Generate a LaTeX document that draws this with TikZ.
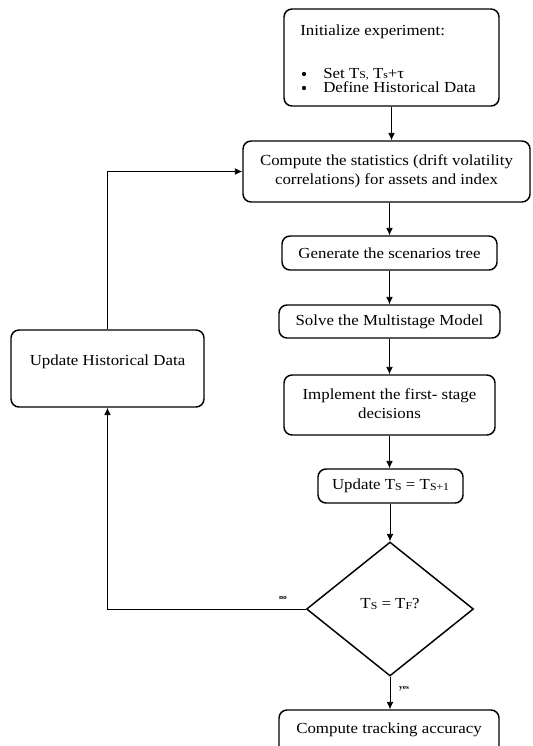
\documentclass[tikz,border=0pt]{standalone}
\usepackage{fontspec}
\setmainfont{Liberation Serif}[FakeStretch=1.1]
\usetikzlibrary{arrows.meta,shapes.geometric}
\newdimen\px \px=0.75pt
\tikzset{
  box/.style={draw, line width=1.1pt, rounded corners=6pt, inner sep=0pt},
  arr/.style={line width=0.6pt, -{Latex[length=5.5pt,width=5pt]}},
  txt/.style={font=\fontsize{11.5}{14.5}\selectfont, inner sep=0pt, align=center},
  tiny/.style={font=\fontsize{5}{6}\selectfont\bfseries, inner sep=0pt}
}
\newcommand{\subS}[1]{{\fontsize{8}{9}\selectfont\raisebox{-0.6pt}{#1}}}
\begin{document}
\begin{tikzpicture}[x=0.75pt,y=-0.75pt]
\useasboundingbox (0,0) rectangle (532,746);
\clip (0,0) rectangle (532,746);
% boxes
\node[box, minimum width=215\px, minimum height=97\px] (init) at (391.5,57.5) {};
\node[txt, anchor=base west] (t1) at (300,36) {Initialize experiment:};
\node[fill, circle, inner sep=0pt, minimum size=3.2pt] (b1) at (304,74) {};
\node[txt, anchor=base west] (t2) at (323,78) {Set T\subS{S,} T\subS{s}+τ};
\node[fill, circle, inner sep=0pt, minimum size=3.2pt] (b2) at (304,88) {};
\node[txt, anchor=base west] (t3) at (323,92) {Define Historical Data};

\node[box, minimum width=287\px, minimum height=61\px] (comp) at (386.5,171.5) {};
\node[txt] (ct) at (386.5,171.5) {Compute the statistics (drift volatility\\correlations) for assets and index};

\node[box, minimum width=215\px, minimum height=34\px, txt] (gen) at (389.5,253) {Generate the scenarios tree};
\node[box, minimum width=221\px, minimum height=33\px, txt] (solve) at (389.5,321.5) {Solve the Multistage Model};
\node[box, minimum width=211\px, minimum height=60\px] (impl) at (389.5,405) {};
\node[txt] (it) at (389.5,404) {Implement the first- stage\\decisions};
\node[box, minimum width=145\px, minimum height=34\px, txt] (upd) at (390.5,486) {Update T\subS{S} = T\subS{S+1}};

\node[draw, line width=1.1pt, diamond, minimum width=167\px, minimum height=134\px, inner sep=0pt] (dec) at (390,609) {};
\node[txt] (dt) at (390,604) {T\subS{S} = T\subS{F}?};

\node[box, minimum width=220\px, minimum height=50\px] (track) at (389,735) {};
\node[txt, anchor=base] (tt) at (389,733) {Compute tracking accuracy};

\node[box, minimum width=193\px, minimum height=77\px] (hist) at (107.5,368.5) {};
\node[txt] (ht) at (107.5,362) {Update Historical Data};

% connectors
\draw[arr] (init.south) -- (init.south |- comp.north);
\draw[arr] (gen.north |- comp.south) -- (gen.north);
\draw[arr] (gen.south) -- (gen.south |- solve.north);
\draw[arr] (solve.south) -- (solve.south |- impl.north);
\draw[arr] (impl.south) -- (impl.south |- upd.north);
\draw[arr] (dec.north |- upd.south) -- (dec.north);
\draw[arr] (dec.south) -- (dec.south |- track.north);
\draw[arr] (dec.west) -| (hist.south);
\draw[arr] (hist.north) |- (comp.west);

\node[tiny] (no) at (283,598) {no};
\node[tiny] (yes) at (404,689) {yes};
\end{tikzpicture}
\end{document}
